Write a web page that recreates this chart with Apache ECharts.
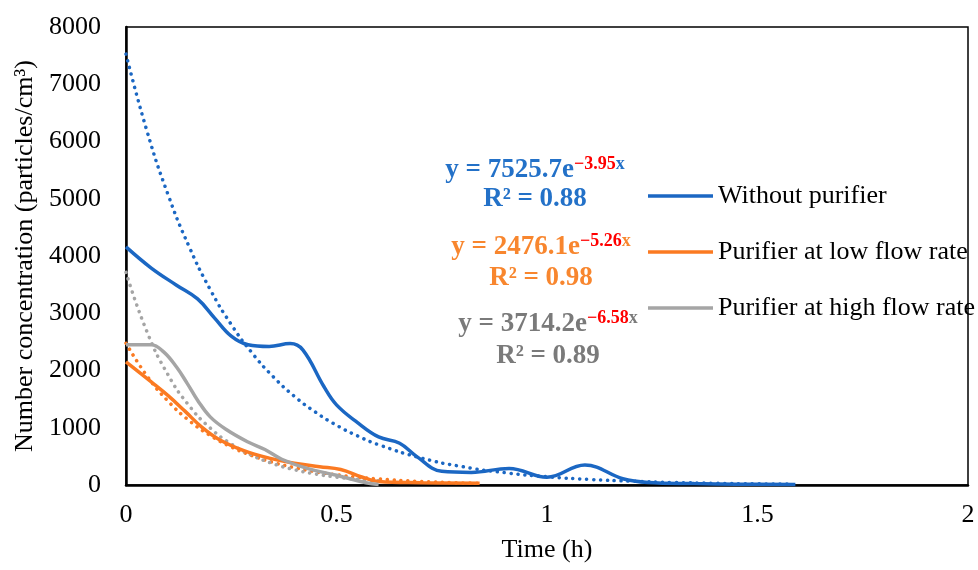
<!DOCTYPE html>
<html>
<head>
<meta charset="utf-8">
<script src="https://cdn.jsdelivr.net/npm/echarts@6/dist/echarts.min.js"></script>
<style>html,body{margin:0;padding:0;background:#fff}#c{width:978px;height:570px}</style>
</head>
<body>
<div id="c"></div>
<script>
// Measured series (time in h, number concentration in particles/cm3)
var withoutT = [0, 0.06, 0.12, 0.17, 0.21, 0.25, 0.29, 0.34, 0.39, 0.42, 0.47, 0.5, 0.55, 0.6, 0.65, 0.69, 0.75, 0.82, 0.91, 1.0, 1.09, 1.18, 1.24, 1.35, 1.45, 1.59];
var withoutV = [4160, 3790, 3490, 3250, 2920, 2600, 2450, 2420, 2470, 2360, 1720, 1400, 1090, 840, 730, 500, 240, 220, 290, 135, 350, 110, 45, 25, 15, 10];

var lowT = [0, 0.06, 0.1, 0.14, 0.18, 0.22, 0.28, 0.34, 0.4, 0.46, 0.51, 0.56, 0.6, 0.7, 0.84];
var lowV = [2150, 1800, 1560, 1290, 1010, 800, 600, 470, 380, 320, 270, 140, 60, 40, 30];

var highT = [0, 0.06, 0.09, 0.12, 0.145, 0.17, 0.2, 0.24, 0.29, 0.33, 0.37, 0.43, 0.5, 0.57, 0.6];
var highV = [2450, 2450, 2320, 2060, 1780, 1480, 1190, 960, 750, 620, 450, 290, 170, 40, 10];

// Trendline (dotted) values
var trendBlueT = [0, 0.05, 0.1, 0.15, 0.2, 0.25, 0.3, 0.35, 0.4, 0.45, 0.5, 0.55, 0.6, 0.7, 0.8, 0.9, 1.0, 1.1, 1.2, 1.3, 1.4, 1.5, 1.58];
var trendBlueV = [7526, 6177, 5070, 4162, 3415, 2803, 2301, 1889, 1550, 1273, 1044, 857, 703, 474, 319, 215, 145, 98, 66, 44, 30, 20, 15];

var trendLowT = [0, 0.05, 0.1, 0.15, 0.2, 0.25, 0.3, 0.35, 0.4, 0.45, 0.5, 0.55, 0.6, 0.7, 0.8, 0.84];
var trendLowV = [2476, 1903, 1463, 1125, 865, 665, 511, 393, 302, 232, 179, 137, 105, 62, 37, 30];

var trendHighT = [0, 0.05, 0.1, 0.15, 0.2, 0.25, 0.3, 0.35, 0.4, 0.45, 0.5, 0.55, 0.6];
var trendHighV = [3714, 2673, 1924, 1384, 996, 717, 516, 371, 267, 192, 138, 100, 72];

var seriesNames = ['Without purifier', 'Purifier at low flow rate', 'Purifier at high flow rate'];
var xTicks = ['0', '0.5', '1', '1.5', '2'];

function pairs(t, v) { return t.map(function (x, i) { return [x, v[i]]; }); }

var FONT = 'Liberation Serif';
var BLUE = '#1b67c3', ORANGE = '#fb7a22', GRAY = '#a5a5a5';
var BLUE_T = '#2371c8', ORANGE_T = '#f8862e', GRAY_T = '#7a7a7a', RED = '#ff0000';

function solid(name, data, color) {
  return { name: name, type: 'line', data: data, smooth: 0.4, symbol: 'none',
    lineStyle: { color: color, width: 3.5 }, itemStyle: { color: color }, z: 3 };
}
function dotted(data, color) {
  return { name: '', type: 'line', data: data, smooth: true, symbol: 'none', silent: true,
    lineStyle: { color: color, width: 3.5, type: [0.1, 6.8], cap: 'round' }, itemStyle: { color: color }, z: 2 };
}

function eqText(x, y, color, base, expo) {
  return { type: 'text', x: x, y: y, z: 10,
    style: { text: '{a|' + base + '}{b|' + expo + '}{c|x}', align: 'center', verticalAlign: 'middle',
      rich: {
        a: { fontFamily: FONT, fontWeight: 'bold', fontSize: 27, fill: color, color: color, lineHeight: 30 },
        b: { fontFamily: FONT, fontWeight: 'bold', fontSize: 18, fill: RED, color: RED, verticalAlign: 'top', lineHeight: 30, padding: [0, 0, 12, 0] },
        c: { fontFamily: FONT, fontWeight: 'bold', fontSize: 18, fill: color, color: color, verticalAlign: 'top', lineHeight: 30, padding: [0, 0, 12, 0] }
      } } };
}
function r2Text(x, y, color, txt) {
  return { type: 'text', x: x, y: y, z: 10,
    style: { text: txt, align: 'center', verticalAlign: 'middle', fontFamily: FONT, fontWeight: 'bold', fontSize: 27, fill: color } };
}

var chart = echarts.init(document.getElementById('c'), null, { renderer: 'canvas' });
chart.setOption({
  animation: false,
  backgroundColor: '#fff',
  grid: { left: 126, right: 10, top: 27, bottom: 85, show: true, borderColor: '#000', borderWidth: 1.5, containLabel: false },
  legend: {
    data: seriesNames.map(function (n) { return { name: n, icon: 'rect' }; }),
    orient: 'vertical', left: 643, top: 178, itemWidth: 65, itemHeight: 3.5, itemGap: 30,
    textStyle: { fontFamily: FONT, fontSize: 26, color: '#000' }, selectedMode: false
  },
  xAxis: {
    type: 'value', min: 0, max: 2, interval: 0.5,
    name: 'Time (h)', nameLocation: 'middle', nameGap: 52,
    nameTextStyle: { fontFamily: FONT, fontSize: 26, color: '#000' },
    axisLine: { show: true, lineStyle: { color: '#000', width: 2.5 } },
    axisTick: { show: false }, splitLine: { show: false },
    axisLabel: { margin: 17, fontFamily: FONT, fontSize: 26, color: '#000',
      formatter: function (v) { return xTicks[Math.round(v / 0.5)]; } }
  },
  yAxis: {
    type: 'value', min: 0, max: 8000, interval: 1000,
    name: 'Number concentration (particles/cm\u00B3)', nameLocation: 'middle', nameGap: 66, nameRotate: 90,
    nameTextStyle: { fontFamily: FONT, fontSize: 26, color: '#000' },
    axisLine: { show: true, lineStyle: { color: '#000', width: 2.5 } },
    axisTick: { show: false }, splitLine: { show: false },
    axisLabel: { margin: 25, fontFamily: FONT, fontSize: 26, color: '#000',
      formatter: function (v) { return String(v); } }
  },
  series: [
    dotted(pairs(trendBlueT, trendBlueV), BLUE),
    dotted(pairs(trendLowT, trendLowV), ORANGE),
    dotted(pairs(trendHighT, trendHighV), GRAY),
    solid(seriesNames[0], pairs(withoutT, withoutV), BLUE),
    solid(seriesNames[1], pairs(lowT, lowV), ORANGE),
    solid(seriesNames[2], pairs(highT, highV), GRAY)
  ],
  graphic: [
    eqText(535, 170, BLUE_T, 'y = 7525.7e', '\u22123.95'),
    r2Text(535, 199, BLUE_T, 'R\u00B2 = 0.88'),
    eqText(541, 247, ORANGE_T, 'y = 2476.1e', '\u22125.26'),
    r2Text(541, 278, ORANGE_T, 'R\u00B2 = 0.98'),
    eqText(548, 324, GRAY_T, 'y = 3714.2e', '\u22126.58'),
    r2Text(548, 356, GRAY_T, 'R\u00B2 = 0.89')
  ]
});
</script>
</body>
</html>
